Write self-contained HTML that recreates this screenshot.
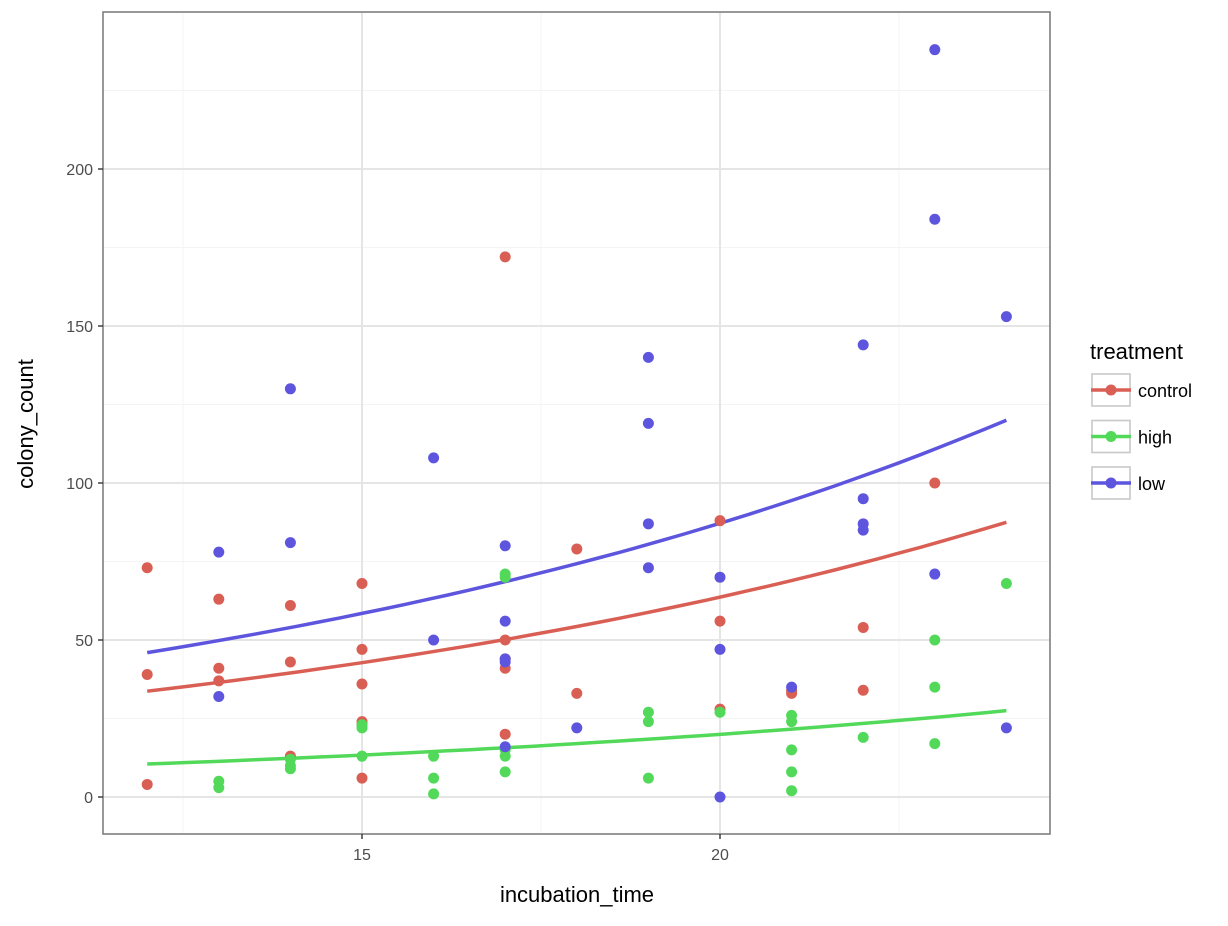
<!DOCTYPE html>
<html><head><meta charset="utf-8"><style>
body{margin:0;background:#fff;font-family:"Liberation Sans",Arial,sans-serif;}
svg text{font-family:"Liberation Sans",Arial,sans-serif;}
</style></head><body>
<svg id="chart" width="1228" height="921" viewBox="0 0 1228 921" xmlns="http://www.w3.org/2000/svg">
<rect width="1228" height="921" fill="#fff"/>
<g id="grid"></g>
<g id="fits"></g>
<g id="pts"></g>
<rect x="103" y="12" width="947" height="822" fill="none" stroke="#7f7f7f" stroke-width="1.6"/>
<g id="axes"></g>
<text x="577" y="902" font-size="22" text-anchor="middle" fill="#000">incubation_time</text>
<text x="33" y="424" font-size="22" text-anchor="middle" fill="#000" transform="rotate(-90 33 424)">colony_count</text>
<g id="legend">
<text x="1090" y="359" font-size="22" fill="#000">treatment</text>
</g>
</svg>
<script>
const treatments=["control","high","low"];
const colors=["#d95f55","#52d95a","#5e55de"];
const controlX=[12,12,12,13,13,13,14,14,14,15,15,15,15,15,15,17,17,17,17,17,18,18,20,20,20,21,21,22,22,23];
const controlY=[73,39,4,63,41,37,61,43,13,68,47,36,24,23,6,172,50,44,41,20,79,33,88,56,28,34,33,54,34,100];
const highX=[13,13,14,14,14,15,15,15,16,16,16,17,17,17,17,17,19,19,19,20,21,21,21,21,21,22,23,23,23,24];
const highY=[5,3,12,10,9,23,22,13,13,6,1,71,70,15,13,8,27,24,6,27,26,24,15,8,2,19,50,35,17,68];
const lowX=[13,13,14,14,16,16,17,17,17,17,17,18,19,19,19,19,20,20,20,21,22,22,22,22,23,23,23,24,24];
const lowY=[78,32,130,81,108,50,80,56,44,43,16,22,140,119,87,73,70,47,0,35,144,95,87,85,238,184,71,153,22];
const fitStart=[33.7,10.5,46];
const fitEnd=[87.5,27.5,120];
const fitRange=[12,24];
const xTicks=[15,20];
const yTicks=[0,50,100,150,200];
const xMinor=[12.5,17.5,22.5];
const yMinor=[25,75,125,175,225];
const X=v=>362+(v-15)*71.6;
const Y=v=>797-v*3.14;
const NS="http://www.w3.org/2000/svg";
function mk(tag,attrs,parent){const e=document.createElementNS(NS,tag);for(const k in attrs)e.setAttribute(k,attrs[k]);parent.appendChild(e);return e;}
const grid=document.getElementById('grid'),axes=document.getElementById('axes');
xMinor.forEach(v=>{const l=mk('line',{x1:X(v),x2:X(v),y1:12,y2:834,stroke:'#f4f4f4','stroke-width':1},grid);

});
yMinor.forEach(v=>{const l=mk('line',{x1:103,x2:1050,y1:Y(v),y2:Y(v),stroke:'#f4f4f4','stroke-width':1},grid);

});
xTicks.forEach(v=>{const l=mk('line',{x1:X(v),x2:X(v),y1:12,y2:834,stroke:'#e5e5e5','stroke-width':2},grid);


const t=mk('line',{x1:X(v),x2:X(v),y1:834,y2:839,stroke:'#333','stroke-width':1.4},axes);


const tx=mk('text',{x:X(v),y:860,'font-size':16,'text-anchor':'middle',fill:'#4d4d4d'},axes);tx.textContent=v;

});
yTicks.forEach(v=>{const l=mk('line',{x1:103,x2:1050,y1:Y(v),y2:Y(v),stroke:'#e5e5e5','stroke-width':2},grid);


const t=mk('line',{x1:98,x2:103,y1:Y(v),y2:Y(v),stroke:'#333','stroke-width':1.4},axes);


const tx=mk('text',{x:93,y:Y(v)+6,'font-size':16,'text-anchor':'end',fill:'#4d4d4d'},axes);tx.textContent=v;

});
const fits=document.getElementById('fits'),pts=document.getElementById('pts');
const series=[[controlX,controlY],[highX,highY],[lowX,lowY]];
series.forEach((s,i)=>{s[0].forEach((x,j)=>{const c=mk('circle',{cx:X(x),cy:Y(s[1][j]),r:5.5,fill:colors[i]},pts);

});});
treatments.forEach((t,i)=>{let d='';const a=fitStart[i],b=fitEnd[i],n=40;
for(let k=0;k<=n;k++){const f=k/n;const x=fitRange[0]+f*(fitRange[1]-fitRange[0]);const y=a*Math.pow(b/a,f);d+=(k?'L':'M')+X(x).toFixed(1)+','+Y(y).toFixed(1);}
const p=mk('path',{d:d,fill:'none',stroke:colors[i],'stroke-width':3.5},fits);

});
const leg=document.getElementById('legend');
treatments.forEach((t,i)=>{const y0=374+i*46.5;
const g=mk('g',{},leg);


mk('rect',{x:1092,y:y0,width:38,height:32,fill:'#fff',stroke:'#c8c8c8','stroke-width':1.6},g);
mk('line',{x1:1091,x2:1131,y1:y0+16,y2:y0+16,stroke:colors[i],'stroke-width':3.5},g);
mk('circle',{cx:1111,cy:y0+16,r:5.5,fill:colors[i]},g);
const tx=mk('text',{x:1138,y:y0+23,'font-size':18,fill:'#000'},g);tx.textContent=t;});
</script>
</body></html>
